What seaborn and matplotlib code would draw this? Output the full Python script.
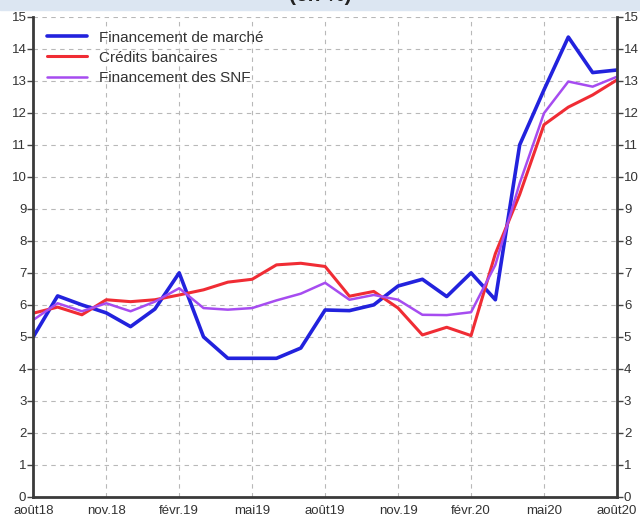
import matplotlib
matplotlib.use("Agg")
import matplotlib.pyplot as plt
import seaborn as sns
import numpy as np
import pandas as pd

# monthly data, août 2018 -> août 2020
months = ["août18", "sept.18", "oct.18", "nov.18", "déc.18", "janv.19", "févr.19",
          "mars19", "avr.19", "mai19", "juin19", "juil.19", "août19", "sept.19",
          "oct.19", "nov.19", "déc.19", "janv.20", "févr.20", "mars20", "avr.20",
          "mai20", "juin20", "juil.20", "août20"]

marche = [5.0, 6.28, 6.0, 5.75, 5.32, 5.87, 7.0, 5.0, 4.33, 4.33, 4.33, 4.65, 5.84,
          5.82, 6.0, 6.59, 6.8, 6.26, 7.0, 6.16, 11.0, 12.72, 14.37, 13.26, 13.34]
credits = [5.74, 5.93, 5.69, 6.16, 6.1, 6.16, 6.31, 6.47, 6.71, 6.8, 7.25, 7.3, 7.2,
           6.27, 6.42, 5.9, 5.06, 5.3, 5.04, 7.6, 9.45, 11.63, 12.18, 12.56, 13.03]
snf = [5.53, 6.05, 5.8, 6.05, 5.8, 6.1, 6.52, 5.9, 5.85, 5.9, 6.14, 6.35, 6.69,
       6.16, 6.31, 6.16, 5.69, 5.68, 5.77, 7.25, 9.8, 11.99, 12.98, 12.82, 13.13]

series_names = ["Financement de marché", "Crédits bancaires", "Financement des SNF"]
tick_labels = ["août18", "nov.18", "févr.19", "mai19", "août19", "nov.19", "févr.20", "mai20", "août20"]

df = pd.DataFrame({
    "mois": np.tile(np.arange(len(months)), 3),
    "valeur": marche + credits + snf,
    "serie": np.repeat(series_names, len(months)),
})

palette = {"Financement de marché": "#2222dd",
           "Crédits bancaires": "#f02c34",
           "Financement des SNF": "#a64cf0"}
widths = {"Financement de marché": 2.6, "Crédits bancaires": 2.2, "Financement des SNF": 1.8}

sns.set_style("white")
plt.rcParams["font.family"] = ["Liberation Sans", "DejaVu Sans"]

fig = plt.figure(figsize=(6.4, 5.28), dpi=100)
# light header strip with the cut-off title (only its lower edge shows)
fig.patches.append(plt.Rectangle((0, 0.982), 1, 0.018, transform=fig.transFigure,
                                 color="#dce6f2", zorder=0))
fig.text(0.5, 0.998, "(en %)", ha="center", va="baseline", fontsize=15,
         fontweight="bold", color="#222222")

ax = fig.add_axes([0.052, 0.059, 0.912, 0.909])
for name in series_names:
    sub = df[df["serie"] == name]
    sns.lineplot(data=sub, x="mois", y="valeur", color=palette[name],
                 linewidth=widths[name], label=name, ax=ax)

ax.set_xlim(0, len(months) - 1)
ax.set_ylim(0, 15)
ax.set_xticks(np.arange(0, len(months), 3))
ax.set_xticklabels(tick_labels)
ax.set_yticks(np.arange(0, 16, 1))
ax.set_xlabel("")
ax.set_ylabel("")

ax.grid(True, linestyle=(0, (4, 4)), color="#b8b8b8", linewidth=0.8)
ax.tick_params(axis="y", which="both", left=True, right=True, labelleft=True,
               labelright=True, length=4, width=1, color="#444444",
               labelsize=9.5, labelcolor="#333333", pad=1)
ax.tick_params(axis="x", direction="inout", length=8, width=1.2, color="#444444",
               labelsize=9.5, labelcolor="#333333", pad=2)

for side in ["left", "right", "bottom"]:
    ax.spines[side].set_visible(True)
    ax.spines[side].set_color("#3a3a3a")
    ax.spines[side].set_linewidth(2)
ax.spines["top"].set_visible(False)

leg = ax.legend(loc="upper left", frameon=False, fontsize=11, handlelength=2.6,
                borderaxespad=0.5, labelspacing=0.4)
for text in leg.get_texts():
    text.set_color("#333333")

fig.savefig("out.png", dpi=100)
